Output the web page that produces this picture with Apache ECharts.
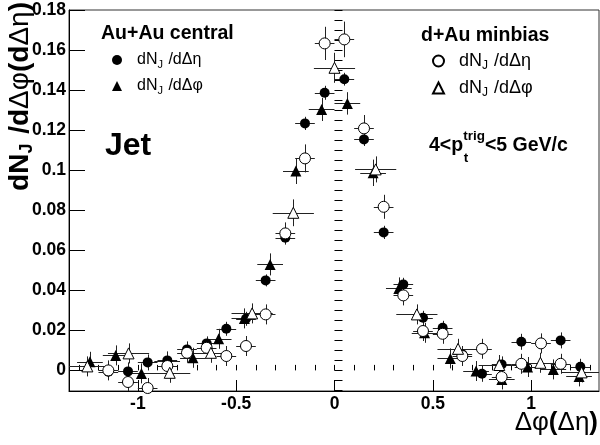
<!DOCTYPE html>
<html><head><meta charset="utf-8">
<script src="https://cdn.jsdelivr.net/npm/echarts@6/dist/echarts.min.js"></script>
<style>html,body{margin:0;padding:0;background:#fff}#c{width:600px;height:445px}</style>
</head><body><div id="c"></div>
<script>
const FONT = '"Liberation Sans", Arial, Helvetica, sans-serif';

// ---- data ----
// Au+Au central, dN_J/dDeta (filled circles)
const auEtaX   = [-1.15,-1.05,-0.95,-0.85,-0.75,-0.65,-0.55,-0.45,-0.35,-0.25,-0.15,-0.05,0.05,0.15,0.25,0.35,0.45,0.55,0.65,0.75,0.85,0.95,1.15,1.25];
const auEtaY   = [-0.0007,-0.0005,0.004,0.005,0.0105,0.0135,0.0208,0.0258,0.045,0.0663,0.1235,0.1388,0.1456,0.1155,0.069,0.043,0.0263,0.0213,0.008,-0.0017,0.003,0.0143,0.015,0.0018];
const auEtaErr = [0.004,0.0045,0.004,0.004,0.004,0.0035,0.0035,0.0035,0.003,0.0033,0.0033,0.0035,0.0032,0.0033,0.0033,0.0033,0.0035,0.0035,0.004,0.004,0.004,0.004,0.004,0.004];
const auEtaXErr = 0.05;

// Au+Au central, dN_J/dDphi (filled triangles)
const auPhiX   = [-1.2435,-1.1126,-0.9817,-0.8508,-0.7199,-0.589,-0.4581,-0.3272,-0.1963,-0.0654,0.0654,0.1963,0.3272,0.4581,0.589,0.7199,0.8508,0.9817,1.1126,1.2435];
const auPhiY   = [0.0043,0.0075,-0.0015,0.0045,0.0063,0.0158,0.026,0.053,0.0997,0.1305,0.1335,0.0988,0.041,0.0188,0.006,-0.0003,-0.0045,0.0017,0.0005,-0.003];
const auPhiErr = [0.005,0.005,0.005,0.005,0.005,0.005,0.005,0.0055,0.0065,0.0058,0.0056,0.0066,0.0055,0.005,0.005,0.005,0.005,0.005,0.005,0.005];
const auPhiXErr = 0.0654;

// d+Au minbias, dN_J/dDeta (open circles)
const dauEtaX   = [-1.15,-1.05,-0.95,-0.85,-0.75,-0.65,-0.55,-0.45,-0.35,-0.25,-0.15,-0.05,0.05,0.15,0.25,0.35,0.45,0.55,0.65,0.75,0.85,0.95,1.05,1.15];
const dauEtaY   = [0.0,-0.0058,-0.0088,0.0022,0.0088,0.0113,0.0072,0.0122,0.028,0.0685,0.106,0.1635,0.1655,0.121,0.0818,0.0375,0.0197,0.0183,0.0072,0.0108,-0.0033,0.0033,0.0135,0.0033];
const dauEtaErr = [0.005,0.005,0.005,0.005,0.005,0.005,0.005,0.005,0.005,0.0055,0.007,0.0083,0.0089,0.0067,0.006,0.005,0.005,0.005,0.005,0.005,0.005,0.005,0.005,0.005];
const dauEtaXErr = 0.05;

// d+Au minbias, dN_J/dDphi (open triangles)
const dauPhiX   = [-1.2566,-1.0472,-0.8378,-0.6283,-0.4189,-0.2094,0,0.2094,0.4189,0.6283,0.8378,1.0472,1.2566];
const dauPhiY   = [0.002,0.0085,-0.0012,0.0088,0.0285,0.0788,0.1513,0.1005,0.028,0.0108,0.0027,0.0038,-0.001];
const dauPhiErr = [0.005,0.005,0.005,0.005,0.005,0.0067,0.0075,0.0065,0.005,0.005,0.005,0.005,0.005];
const dauPhiXErr = 0.1047;

// axes
const XMIN = -1.35, XMAX = 1.345;
const YMIN = -0.0103, YMAX = 0.1802;
const xMajorTicks = [-1, -0.5, 0, 0.5, 1];
const xMinorTicks = [-1.3,-1.2,-1.1,-1,-0.9,-0.8,-0.7,-0.6,-0.5,-0.4,-0.3,-0.2,-0.1,0,0.1,0.2,0.3,0.4,0.5,0.6,0.7,0.8,0.9,1,1.1,1.2,1.3];
const yMajorTicks = [0,0.02,0.04,0.06,0.08,0.1,0.12,0.14,0.16,0.18];
const yMinorTicks = [-0.01,-0.005,0,0.005,0.01,0.015,0.02,0.025,0.03,0.035,0.04,0.045,0.05,0.055,0.06,0.065,0.07,0.075,0.08,0.085,0.09,0.095,0.1,0.105,0.11,0.115,0.12,0.125,0.13,0.135,0.14,0.145,0.15,0.155,0.16,0.165,0.17,0.175,0.18];

// ---- build ----
function rows(xs, ys, eys, ex) { return xs.map((x, i) => [x, ys[i], ex, eys[i]]); }

function errRender(params, api) {
  const x = api.value(0), y = api.value(1), ex = api.value(2), ey = api.value(3);
  const pL = api.coord([Math.max(x - ex, XMIN), y]);
  const pR = api.coord([Math.min(x + ex, XMAX), y]);
  const pB = api.coord([x, Math.max(y - ey, YMIN)]);
  const pT = api.coord([x, Math.min(y + ey, YMAX)]);
  const hy = Math.round(pL[1]) + 0.5, vx = Math.round(pB[0]) + 0.5;
  const st = { stroke: '#222', lineWidth: 1 };
  return { type: 'group', children: [
    { type: 'line', shape: { x1: pL[0], y1: hy, x2: pR[0], y2: hy }, style: st },
    { type: 'line', shape: { x1: vx, y1: pB[1], x2: vx, y2: pT[1] }, style: st }
  ]};
}

const sets = [
  { name: 'auEta', data: rows(auEtaX, auEtaY, auEtaErr, auEtaXErr), symbol: 'circle', size: 10, fill: '#000' },
  { name: 'auPhi', data: rows(auPhiX, auPhiY, auPhiErr, auPhiXErr), symbol: 'triangle', size: 11, fill: '#000' },
  { name: 'dauEta', data: rows(dauEtaX, dauEtaY, dauEtaErr, dauEtaXErr), symbol: 'circle', size: 11, fill: '#fff' },
  { name: 'dauPhi', data: rows(dauPhiX, dauPhiY, dauPhiErr, dauPhiXErr), symbol: 'triangle', size: 11, fill: '#fff' }
];

const series = [];
sets.forEach(s => {
  series.push({ type: 'custom', name: s.name + '_err', renderItem: errRender, data: s.data,
    encode: { x: 0, y: 1 }, z: 2, silent: true });
});
sets.forEach(s => {
  series.push({ type: 'scatter', name: s.name, data: s.data.map(r => [r[0], r[1]]),
    symbol: s.symbol, symbolSize: s.size, z: 3,
    itemStyle: { color: s.fill, borderColor: '#000', borderWidth: s.fill === '#fff' ? 1 : 0, opacity: 1 } });
});

const legendText = {
  auEta: '{a|dN}{s|J}{a| /d\u0394\u03b7}', auPhi: '{a|dN}{s|J}{a| /d\u0394\u03c6}',
  dauEta: '{a|dN}{s|J}{a| /d\u0394\u03b7}', dauPhi: '{a|dN}{s|J}{a| /d\u0394\u03c6}'
};

const axisCommon = { splitLine: { show: false } };

const option = {
  animation: false,
  backgroundColor: '#fff',
  grid: { left: 69, top: 10, width: 530, height: 381, show: true, borderColor: '#333', borderWidth: 1, backgroundColor: '#fff' },
  xAxis: [
    Object.assign({ type: 'value', min: XMIN, max: XMAX, position: 'bottom',
      axisLine: { show: true, onZero: false, lineStyle: { color: '#000', width: 1 } },
      axisTick: { show: true, inside: true, length: 11, customValues: xMajorTicks, lineStyle: { color: '#000' } },
      axisLabel: { customValues: xMajorTicks, fontFamily: FONT, fontWeight: 'bold', fontSize: 17.5, color: '#000', margin: 4 } }, axisCommon),
    Object.assign({ type: 'value', min: XMIN, max: XMAX, position: 'bottom',
      axisLine: { show: false },
      axisTick: { show: true, inside: true, length: 5.5, customValues: xMinorTicks, lineStyle: { color: '#000' } },
      axisLabel: { show: false } }, axisCommon)
  ],
  yAxis: [
    Object.assign({ type: 'value', min: YMIN, max: YMAX, position: 'left',
      axisLine: { show: true, onZero: false, lineStyle: { color: '#000', width: 1 } },
      axisTick: { show: true, inside: true, length: 16, customValues: yMajorTicks, lineStyle: { color: '#000' } },
      axisLabel: { customValues: yMajorTicks, fontFamily: FONT, fontWeight: 'bold', fontSize: 17.5, color: '#000', margin: 3, padding: [5, 0, 0, 0] } }, axisCommon),
    Object.assign({ type: 'value', min: YMIN, max: YMAX, position: 'left',
      axisLine: { show: false },
      axisTick: { show: true, inside: true, length: 8, customValues: yMinorTicks, lineStyle: { color: '#000' } },
      axisLabel: { show: false } }, axisCommon)
  ],
  legend: [
    { data: ['auEta', 'auPhi'], orient: 'vertical', left: 112, top: 52, padding: 0, itemGap: 8,
      itemWidth: 10, itemHeight: 10, selectedMode: false,
      formatter: n => legendText[n],
      textStyle: { color: '#000', padding: [0, 0, 0, 10], rich: {
        a: { fontFamily: FONT, fontSize: 16, lineHeight: 20, color: '#000' },
        s: { fontFamily: FONT, fontSize: 11, lineHeight: 10, verticalAlign: 'bottom', padding: [4, 1, 0, 0], color: '#000' } } } },
    { data: ['dauEta', 'dauPhi'], orient: 'vertical', left: 432, top: 52, padding: 0, itemGap: 7,
      itemWidth: 11, itemHeight: 11, selectedMode: false,
      formatter: n => legendText[n],
      textStyle: { color: '#000', padding: [0, 0, 0, 10], rich: {
        a: { fontFamily: FONT, fontSize: 18, lineHeight: 22, color: '#000' },
        s: { fontFamily: FONT, fontSize: 12, lineHeight: 11, verticalAlign: 'bottom', padding: [4, 1, 0, 0], color: '#000' } } } }
  ],
  graphic: [
    { type: 'text', left: 101, top: 24, style: { text: 'Au+Au central', font: 'bold 19.5px ' + FONT, fill: '#000' } },
    { type: 'text', left: 421, top: 26, style: { text: 'd+Au minbias', font: 'bold 19.5px ' + FONT, fill: '#000' } },
    { type: 'text', left: 105, top: 130, style: { text: 'Jet', font: 'bold 32px ' + FONT, fill: '#000' } },
    { type: 'text', left: 429, top: 129, style: {
        text: '{m|4<p}{u|trig}{m|<5 GeV/c}',
        rich: { m: { font: 'bold 19.5px ' + FONT, fill: '#000', lineHeight: 30, verticalAlign: 'bottom', padding: [0,0,3,0] },
                u: { font: 'bold 13.5px ' + FONT, fill: '#000', lineHeight: 14, verticalAlign: 'top' } } } },
    { type: 'text', x: 466, y: 158, style: { text: 't', font: 'bold 13.5px ' + FONT, fill: '#000', align: 'center', verticalAlign: 'middle' } },
    { type: 'text', x: 598, y: 423, style: {
        text: '{g|\u0394\u03c6}{b|(}{g|\u0394\u03b7}{b|)}', align: 'right', verticalAlign: 'middle',
        rich: { g: { font: '26px ' + FONT, fill: '#000' }, b: { font: 'bold 26px ' + FONT, fill: '#000' } } } },
    { type: 'text', x: 20, y: 2, rotation: Math.PI / 2, style: {
        text: '{b|dN}{s|J}{b| /d}{g|\u0394\u03c6}{b|(d}{g|\u0394\u03b7}{b|)}', align: 'right', verticalAlign: 'middle',
        rich: { b: { font: 'bold 28px ' + FONT, fill: '#000', lineHeight: 32 },
                g: { font: '28px ' + FONT, fill: '#000', lineHeight: 32 },
                s: { font: 'bold 18px ' + FONT, fill: '#000', lineHeight: 18, verticalAlign: 'bottom', padding: [5, 2, 0, 0] } } } }
  ],
  series: series
};

const chart = echarts.init(document.getElementById('c'), null, { renderer: 'canvas' });
chart.setOption(option);
</script>
</body></html>
